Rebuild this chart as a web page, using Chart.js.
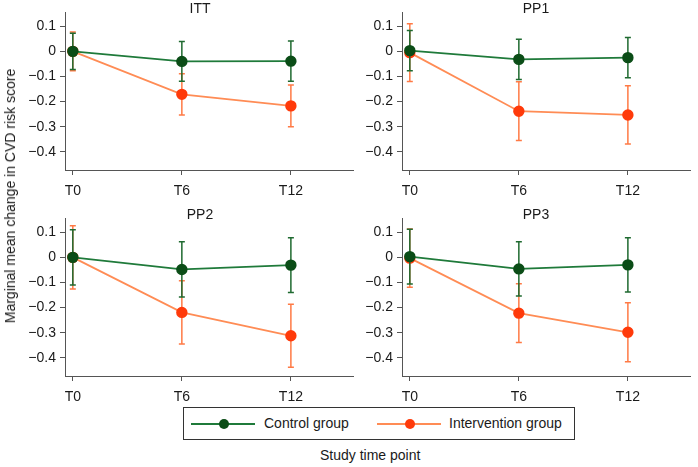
<!DOCTYPE html>
<html>
<head>
<meta charset="utf-8">
<script src="https://cdn.jsdelivr.net/npm/chart.js@4/dist/chart.umd.min.js"></script>
<style>
    body { margin: 0; background: #fff; font-family: 'Liberation Sans', Arial, sans-serif; color: #1a1a1a; }
    #wrap { position: relative; width: 698px; height: 467px; overflow: hidden; }
    .panel { position: absolute; width: 360px; height: 200px; }
    .ptitle { position: absolute; font-size: 14px; transform: translate(-50%, -50%); white-space: nowrap; }
    #ytitle { position: absolute; left: 10px; top: 196px; font-size: 14px; white-space: nowrap; transform: translate(-50%, -50%) rotate(-90deg); }
    #xtitle { position: absolute; left: 320px; top: 447px; font-size: 14px; }
    #legend { position: absolute; left: 183px; top: 407px; width: 390px; height: 31px; border: 1px solid #333; }
    .lg-line { position: absolute; height: 2px; top: 15px; width: 64px; }
    .lg-dot { position: absolute; width: 10px; height: 10px; border-radius: 50%; top: 11px; }
    .lg-text { position: absolute; top: 7px; font-size: 14px; white-space: nowrap; }
</style>
</head>
<body>
<div id="wrap">
    <canvas id="c0" class="panel" style="left:0;top:0"></canvas>
    <canvas id="c1" class="panel" style="left:337px;top:0"></canvas>
    <canvas id="c2" class="panel" style="left:0;top:206px"></canvas>
    <canvas id="c3" class="panel" style="left:337px;top:206px"></canvas>

    <div class="ptitle" style="left:200px;top:8px">ITT</div>
    <div class="ptitle" style="left:536px;top:8px">PP1</div>
    <div class="ptitle" style="left:200px;top:214px">PP2</div>
    <div class="ptitle" style="left:536px;top:214px">PP3</div>

    <div id="ytitle">Marginal mean change in CVD risk score</div>

    <div id="legend">
        <div class="lg-line" style="left:7px;background:#1f7a3a"></div>
        <div class="lg-dot" style="left:35px;background:#0b4d17"></div>
        <div class="lg-text" style="left:80px">Control group</div>
        <div class="lg-line" style="left:193px;background:#ff8c55"></div>
        <div class="lg-dot" style="left:221px;background:#ff3a0a"></div>
        <div class="lg-text" style="left:265px">Intervention group</div>
    </div>

    <div id="xtitle">Study time point</div>
</div>

<script>
// время наблюдения
const timeLabels = ['T0', 'T6', 'T12'];
const timeValues = [0, 6, 12];
const yTickValues = [0.1, 0, -0.1, -0.2, -0.3, -0.4];
const panelTitles = ['ITT', 'PP1', 'PP2', 'PP3'];

// средние значения и полуширина доверительного интервала
const ittControl = [0.000, -0.040, -0.039];
const ittControlErr = [0.072, 0.079, 0.080];
const ittIntervention = [0.000, -0.171, -0.217];
const ittInterventionErr = [0.077, 0.082, 0.083];

const pp1Control = [0.003, -0.032, -0.025];
const pp1ControlErr = [0.080, 0.080, 0.080];
const pp1Intervention = [-0.005, -0.238, -0.253];
const pp1InterventionErr = [0.115, 0.117, 0.116];

const pp2Control = [0.000, -0.048, -0.031];
const pp2ControlErr = [0.110, 0.110, 0.109];
const pp2Intervention = [0.000, -0.219, -0.312];
const pp2InterventionErr = [0.126, 0.126, 0.125];

const pp3Control = [0.003, -0.046, -0.030];
const pp3ControlErr = [0.109, 0.108, 0.108];
const pp3Intervention = [-0.003, -0.222, -0.298];
const pp3InterventionErr = [0.116, 0.117, 0.117];

const panels = [
    [ittControl, ittControlErr, ittIntervention, ittInterventionErr],
    [pp1Control, pp1ControlErr, pp1Intervention, pp1InterventionErr],
    [pp2Control, pp2ControlErr, pp2Intervention, pp2InterventionErr],
    [pp3Control, pp3ControlErr, pp3Intervention, pp3InterventionErr]
];

const FONT = "'Liberation Sans', Arial, sans-serif";

// ===== ПЛАГИН ДЛЯ ПЛАНОК ОШИБОК =====
const errorBarPlugin = {
    id: 'errorBars',
    beforeDatasetDraw(chart, args) {
        const ds = chart.data.datasets[args.index];
        if (!ds.errors) return;
        const yScale = chart.scales.y;
        const ctx = chart.ctx;
        ctx.save();
        ctx.strokeStyle = ds.errorColor;
        ctx.lineWidth = 1.5;
        args.meta.data.forEach((pt, i) => {
            const v = ds.data[i].y;
            const top = yScale.getPixelForValue(v + ds.errors[i]);
            const bottom = yScale.getPixelForValue(v - ds.errors[i]);
            ctx.beginPath();
            ctx.moveTo(pt.x, top);
            ctx.lineTo(pt.x, bottom);
            ctx.moveTo(pt.x - 3, top);
            ctx.lineTo(pt.x + 3, top);
            ctx.moveTo(pt.x - 3, bottom);
            ctx.lineTo(pt.x + 3, bottom);
            ctx.stroke();
        });
        ctx.restore();
    }
};

function toPoints(values) {
    return timeValues.map((t, i) => ({ x: t, y: values[i] }));
}

function createPanel(id, series) {
    const ctx = document.getElementById(id);
    return new Chart(ctx, {
        type: 'line',
        data: {
            datasets: [
                {
                    label: 'Control group',
                    data: toPoints(series[0]),
                    errors: series[1],
                    errorColor: '#1f6a30',
                    borderColor: '#1f7a3a',
                    borderWidth: 1.8,
                    pointBackgroundColor: '#0b4d17',
                    pointBorderColor: '#0b4d17',
                    pointRadius: 4.8,
                    tension: 0
                },
                {
                    label: 'Intervention group',
                    data: toPoints(series[2]),
                    errors: series[3],
                    errorColor: '#ff7a45',
                    borderColor: '#ff8c55',
                    borderWidth: 1.8,
                    pointBackgroundColor: '#ff3a0a',
                    pointBorderColor: '#ff3a0a',
                    pointRadius: 4.8,
                    tension: 0
                }
            ]
        },
        options: {
            responsive: false,
            animation: false,
            layout: { padding: { top: 12, left: 0, right: 0, bottom: 0 } },
            plugins: { legend: { display: false }, tooltip: { enabled: false } },
            scales: {
                x: {
                    type: 'linear',
                    min: -0.43,
                    max: 15.44,
                    afterBuildTicks: scale => { scale.ticks = timeValues.map(v => ({ value: v })); },
                    afterFit: scale => { scale.height = 30; },
                    ticks: {
                        color: '#1a1a1a',
                        font: { family: FONT, size: 14 },
                        padding: 8,
                        maxRotation: 0,
                        callback: value => timeLabels[timeValues.indexOf(value)]
                    },
                    grid: { drawOnChartArea: false, drawTicks: true, tickLength: 5, color: '#555' },
                    border: { display: true, color: '#555', width: 1 }
                },
                y: {
                    min: -0.472,
                    max: 0.155,
                    afterBuildTicks: scale => { scale.ticks = yTickValues.map(v => ({ value: v })); },
                    afterFit: scale => { scale.width = 65; },
                    ticks: {
                        color: '#1a1a1a',
                        font: { family: FONT, size: 14 },
                        padding: 4,
                        callback: value => {
                            const r = Math.round(value * 10) / 10;
                            if (r === 0) return '0';
                            return (r < 0 ? '\u2212' : '') + Math.abs(r).toFixed(1);
                        }
                    },
                    grid: { drawOnChartArea: false, drawTicks: true, tickLength: 5, color: '#555' },
                    border: { display: true, color: '#555', width: 1 }
                }
            }
        },
        plugins: [errorBarPlugin]
    });
}

panels.forEach((series, i) => {
    const c = document.getElementById('c' + i);
    c.width = 360;
    c.height = 200;
    createPanel('c' + i, series);
});
</script>
</body>
</html>
